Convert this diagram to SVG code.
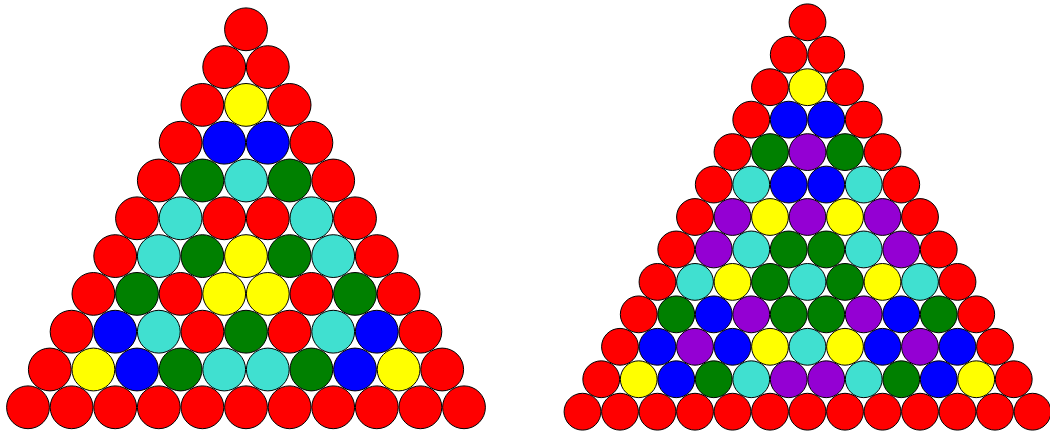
<svg xmlns="http://www.w3.org/2000/svg" width="1050" height="434" viewBox="0 0 1050 434">
<style>
circle{stroke:#000;stroke-width:1}
#left circle{r:21.4px}
#right circle{r:18.4px}
.r{fill:#ff0000}.y{fill:#ffff00}.b{fill:#0000ff}.g{fill:#008000}.c{fill:#40e0d0}.p{fill:#9400d3}
</style>
<rect width="1050" height="434" fill="#fff"/>
<g id="left">
<circle class="r" cx="246" cy="29.3" r="21.4"/>
<circle class="r" cx="224.2" cy="67.1" r="21.4"/><circle class="r" cx="267.8" cy="67.1" r="21.4"/>
<circle class="r" cx="202.4" cy="104.9" r="21.4"/><circle class="y" cx="246" cy="104.9" r="21.4"/><circle class="r" cx="289.6" cy="104.9" r="21.4"/>
<circle class="r" cx="180.6" cy="142.7" r="21.4"/><circle class="b" cx="224.2" cy="142.7" r="21.4"/><circle class="b" cx="267.8" cy="142.7" r="21.4"/><circle class="r" cx="311.4" cy="142.7" r="21.4"/>
<circle class="r" cx="158.8" cy="180.5" r="21.4"/><circle class="g" cx="202.4" cy="180.5" r="21.4"/><circle class="c" cx="246" cy="180.5" r="21.4"/><circle class="g" cx="289.6" cy="180.5" r="21.4"/><circle class="r" cx="333.2" cy="180.5" r="21.4"/>
<circle class="r" cx="137" cy="218.3" r="21.4"/><circle class="c" cx="180.6" cy="218.3" r="21.4"/><circle class="r" cx="224.2" cy="218.3" r="21.4"/><circle class="r" cx="267.8" cy="218.3" r="21.4"/><circle class="c" cx="311.4" cy="218.3" r="21.4"/><circle class="r" cx="355" cy="218.3" r="21.4"/>
<circle class="r" cx="115.2" cy="256.1" r="21.4"/><circle class="c" cx="158.8" cy="256.1" r="21.4"/><circle class="g" cx="202.4" cy="256.1" r="21.4"/><circle class="y" cx="246" cy="256.1" r="21.4"/><circle class="g" cx="289.6" cy="256.1" r="21.4"/><circle class="c" cx="333.2" cy="256.1" r="21.4"/><circle class="r" cx="376.8" cy="256.1" r="21.4"/>
<circle class="r" cx="93.4" cy="293.9" r="21.4"/><circle class="g" cx="137" cy="293.9" r="21.4"/><circle class="r" cx="180.6" cy="293.9" r="21.4"/><circle class="y" cx="224.2" cy="293.9" r="21.4"/><circle class="y" cx="267.8" cy="293.9" r="21.4"/><circle class="r" cx="311.4" cy="293.9" r="21.4"/><circle class="g" cx="355" cy="293.9" r="21.4"/><circle class="r" cx="398.6" cy="293.9" r="21.4"/>
<circle class="r" cx="71.6" cy="331.7" r="21.4"/><circle class="b" cx="115.2" cy="331.7" r="21.4"/><circle class="c" cx="158.8" cy="331.7" r="21.4"/><circle class="r" cx="202.4" cy="331.7" r="21.4"/><circle class="g" cx="246" cy="331.7" r="21.4"/><circle class="r" cx="289.6" cy="331.7" r="21.4"/><circle class="c" cx="333.2" cy="331.7" r="21.4"/><circle class="b" cx="376.8" cy="331.7" r="21.4"/><circle class="r" cx="420.4" cy="331.7" r="21.4"/>
<circle class="r" cx="49.8" cy="369.5" r="21.4"/><circle class="y" cx="93.4" cy="369.5" r="21.4"/><circle class="b" cx="137" cy="369.5" r="21.4"/><circle class="g" cx="180.6" cy="369.5" r="21.4"/><circle class="c" cx="224.2" cy="369.5" r="21.4"/><circle class="c" cx="267.8" cy="369.5" r="21.4"/><circle class="g" cx="311.4" cy="369.5" r="21.4"/><circle class="b" cx="355" cy="369.5" r="21.4"/><circle class="y" cx="398.6" cy="369.5" r="21.4"/><circle class="r" cx="442.2" cy="369.5" r="21.4"/>
<circle class="r" cx="28" cy="407.3" r="21.4"/><circle class="r" cx="71.6" cy="407.3" r="21.4"/><circle class="r" cx="115.2" cy="407.3" r="21.4"/><circle class="r" cx="158.8" cy="407.3" r="21.4"/><circle class="r" cx="202.4" cy="407.3" r="21.4"/><circle class="r" cx="246" cy="407.3" r="21.4"/><circle class="r" cx="289.6" cy="407.3" r="21.4"/><circle class="r" cx="333.2" cy="407.3" r="21.4"/><circle class="r" cx="376.8" cy="407.3" r="21.4"/><circle class="r" cx="420.4" cy="407.3" r="21.4"/><circle class="r" cx="464" cy="407.3" r="21.4"/>
</g>
<g id="right">
<circle class="r" cx="807.5" cy="22.3" r="18.4"/>
<circle class="r" cx="788.75" cy="54.75" r="18.4"/><circle class="r" cx="826.25" cy="54.75" r="18.4"/>
<circle class="r" cx="770" cy="87.2" r="18.4"/><circle class="y" cx="807.5" cy="87.2" r="18.4"/><circle class="r" cx="845" cy="87.2" r="18.4"/>
<circle class="r" cx="751.25" cy="119.65" r="18.4"/><circle class="b" cx="788.75" cy="119.65" r="18.4"/><circle class="b" cx="826.25" cy="119.65" r="18.4"/><circle class="r" cx="863.75" cy="119.65" r="18.4"/>
<circle class="r" cx="732.5" cy="152.1" r="18.4"/><circle class="g" cx="770" cy="152.1" r="18.4"/><circle class="p" cx="807.5" cy="152.1" r="18.4"/><circle class="g" cx="845" cy="152.1" r="18.4"/><circle class="r" cx="882.5" cy="152.1" r="18.4"/>
<circle class="r" cx="713.75" cy="184.55" r="18.4"/><circle class="c" cx="751.25" cy="184.55" r="18.4"/><circle class="b" cx="788.75" cy="184.55" r="18.4"/><circle class="b" cx="826.25" cy="184.55" r="18.4"/><circle class="c" cx="863.75" cy="184.55" r="18.4"/><circle class="r" cx="901.25" cy="184.55" r="18.4"/>
<circle class="r" cx="695" cy="217" r="18.4"/><circle class="p" cx="732.5" cy="217" r="18.4"/><circle class="y" cx="770" cy="217" r="18.4"/><circle class="p" cx="807.5" cy="217" r="18.4"/><circle class="y" cx="845" cy="217" r="18.4"/><circle class="p" cx="882.5" cy="217" r="18.4"/><circle class="r" cx="920" cy="217" r="18.4"/>
<circle class="r" cx="676.25" cy="249.45" r="18.4"/><circle class="p" cx="713.75" cy="249.45" r="18.4"/><circle class="c" cx="751.25" cy="249.45" r="18.4"/><circle class="g" cx="788.75" cy="249.45" r="18.4"/><circle class="g" cx="826.25" cy="249.45" r="18.4"/><circle class="c" cx="863.75" cy="249.45" r="18.4"/><circle class="p" cx="901.25" cy="249.45" r="18.4"/><circle class="r" cx="938.75" cy="249.45" r="18.4"/>
<circle class="r" cx="657.5" cy="281.9" r="18.4"/><circle class="c" cx="695" cy="281.9" r="18.4"/><circle class="y" cx="732.5" cy="281.9" r="18.4"/><circle class="g" cx="770" cy="281.9" r="18.4"/><circle class="c" cx="807.5" cy="281.9" r="18.4"/><circle class="g" cx="845" cy="281.9" r="18.4"/><circle class="y" cx="882.5" cy="281.9" r="18.4"/><circle class="c" cx="920" cy="281.9" r="18.4"/><circle class="r" cx="957.5" cy="281.9" r="18.4"/>
<circle class="r" cx="638.75" cy="314.35" r="18.4"/><circle class="g" cx="676.25" cy="314.35" r="18.4"/><circle class="b" cx="713.75" cy="314.35" r="18.4"/><circle class="p" cx="751.25" cy="314.35" r="18.4"/><circle class="g" cx="788.75" cy="314.35" r="18.4"/><circle class="g" cx="826.25" cy="314.35" r="18.4"/><circle class="p" cx="863.75" cy="314.35" r="18.4"/><circle class="b" cx="901.25" cy="314.35" r="18.4"/><circle class="g" cx="938.75" cy="314.35" r="18.4"/><circle class="r" cx="976.25" cy="314.35" r="18.4"/>
<circle class="r" cx="620" cy="346.8" r="18.4"/><circle class="b" cx="657.5" cy="346.8" r="18.4"/><circle class="p" cx="695" cy="346.8" r="18.4"/><circle class="b" cx="732.5" cy="346.8" r="18.4"/><circle class="y" cx="770" cy="346.8" r="18.4"/><circle class="c" cx="807.5" cy="346.8" r="18.4"/><circle class="y" cx="845" cy="346.8" r="18.4"/><circle class="b" cx="882.5" cy="346.8" r="18.4"/><circle class="p" cx="920" cy="346.8" r="18.4"/><circle class="b" cx="957.5" cy="346.8" r="18.4"/><circle class="r" cx="995" cy="346.8" r="18.4"/>
<circle class="r" cx="601.25" cy="379.25" r="18.4"/><circle class="y" cx="638.75" cy="379.25" r="18.4"/><circle class="b" cx="676.25" cy="379.25" r="18.4"/><circle class="g" cx="713.75" cy="379.25" r="18.4"/><circle class="c" cx="751.25" cy="379.25" r="18.4"/><circle class="p" cx="788.75" cy="379.25" r="18.4"/><circle class="p" cx="826.25" cy="379.25" r="18.4"/><circle class="c" cx="863.75" cy="379.25" r="18.4"/><circle class="g" cx="901.25" cy="379.25" r="18.4"/><circle class="b" cx="938.75" cy="379.25" r="18.4"/><circle class="y" cx="976.25" cy="379.25" r="18.4"/><circle class="r" cx="1013.75" cy="379.25" r="18.4"/>
<circle class="r" cx="582.5" cy="411.7" r="18.4"/><circle class="r" cx="620" cy="411.7" r="18.4"/><circle class="r" cx="657.5" cy="411.7" r="18.4"/><circle class="r" cx="695" cy="411.7" r="18.4"/><circle class="r" cx="732.5" cy="411.7" r="18.4"/><circle class="r" cx="770" cy="411.7" r="18.4"/><circle class="r" cx="807.5" cy="411.7" r="18.4"/><circle class="r" cx="845" cy="411.7" r="18.4"/><circle class="r" cx="882.5" cy="411.7" r="18.4"/><circle class="r" cx="920" cy="411.7" r="18.4"/><circle class="r" cx="957.5" cy="411.7" r="18.4"/><circle class="r" cx="995" cy="411.7" r="18.4"/><circle class="r" cx="1032.5" cy="411.7" r="18.4"/>
</g>
</svg>
